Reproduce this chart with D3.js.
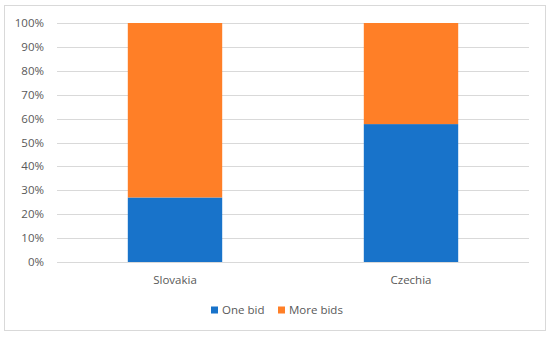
<!DOCTYPE html>
<html>
<head>
<meta charset="utf-8">
<script src="https://cdn.jsdelivr.net/npm/d3@7"></script>
<style>
  body { margin: 0; background: #fff; }
  text { font-family: "Open Sans", "Noto Sans", sans-serif; fill: #595959; }
</style>
</head>
<body>
<svg id="chart" width="550" height="337"></svg>
<script>
// Chart data
const countries = ["Slovakia", "Czechia"];
const oneBid = [0.27, 0.577];
const moreBids = [0.73, 0.423];
const seriesNames = ["One bid", "More bids"];
const seriesColours = ["#1873CA", "#FF7F27"];
const yTicks = [0, 0.1, 0.2, 0.3, 0.4, 0.5, 0.6, 0.7, 0.8, 0.9, 1];

const svg = d3.select("#chart");
const margin = { left: 57, right: 21, top: 23, bottom: 75 };
const width = 550, height = 337;

// Outer border
svg.append("rect")
  .attr("x", 4.5).attr("y", 5.5)
  .attr("width", 541).attr("height", 325)
  .attr("fill", "none")
  .attr("stroke", "#d9d9d9");

const x = d3.scaleBand()
  .domain(countries)
  .range([margin.left, width - margin.right])
  .paddingInner(0.6)
  .paddingOuter(0.3);

const y = d3.scaleLinear()
  .domain([0, 1])
  .range([height - margin.bottom, margin.top]);

// Gridlines
svg.append("g")
  .selectAll("line")
  .data(yTicks)
  .enter()
  .append("line")
  .attr("x1", margin.left)
  .attr("x2", width - margin.right)
  .attr("y1", (d) => Math.round(y(d)) + 0.5)
  .attr("y2", (d) => Math.round(y(d)) + 0.5)
  .attr("stroke", "#d9d9d9");

// Y labels
svg.append("g")
  .selectAll("text")
  .data(yTicks)
  .enter()
  .append("text")
  .attr("x", 44)
  .attr("y", (d) => y(d))
  .attr("dy", "0.35em")
  .attr("text-anchor", "end")
  .style("font-size", "11.5px")
  .text(d3.format(".0%"));

// Stacked bars
const rows = countries.map((c, i) => ({ country: c, one: oneBid[i], more: moreBids[i] }));
const stack = d3.stack().keys(["one", "more"])(rows);

svg.append("g")
  .selectAll("g")
  .data(stack)
  .enter()
  .append("g")
  .attr("fill", (d, i) => seriesColours[i])
  .selectAll("rect")
  .data((d) => d)
  .enter()
  .append("rect")
  .attr("x", (d) => x(d.data.country))
  .attr("width", x.bandwidth())
  .attr("y", (d) => y(d[1]))
  .attr("height", (d) => y(d[0]) - y(d[1]));

// Category labels
svg.append("g")
  .selectAll("text")
  .data(countries)
  .enter()
  .append("text")
  .attr("x", (d) => x(d) + x.bandwidth() / 2)
  .attr("y", 280)
  .attr("dy", "0.35em")
  .attr("text-anchor", "middle")
  .style("font-size", "11.5px")
  .text((d) => d);

// Legend
const legendX = [211, 278];
const legend = svg.append("g")
  .selectAll("g")
  .data(seriesNames)
  .enter()
  .append("g")
  .attr("transform", (d, i) => `translate(${legendX[i]},310)`);

legend.append("rect")
  .attr("x", 0).attr("y", -3.5)
  .attr("width", 7).attr("height", 7)
  .attr("fill", (d, i) => seriesColours[i]);

legend.append("text")
  .attr("x", 11)
  .attr("y", 0)
  .attr("dy", "0.35em")
  .style("font-size", "11.5px")
  .text((d) => d);
</script>
</body>
</html>
